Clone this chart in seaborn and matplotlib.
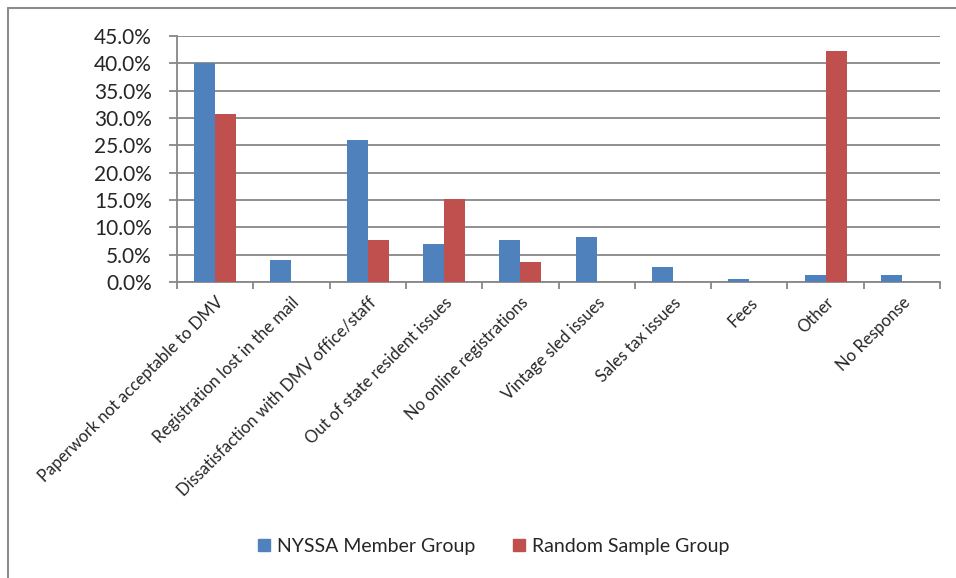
"""Registration problems reported by NYSSA members vs. a random sample."""

import matplotlib.pyplot as plt
import pandas as pd
import seaborn as sns
from matplotlib.lines import Line2D
from matplotlib.ticker import FuncFormatter, MultipleLocator

CATEGORIES = [
    "Paperwork not acceptable to DMV",
    "Registration lost in the mail",
    "Dissatisfaction with DMV office/staff",
    "Out of state resident issues",
    "No online registrations",
    "Vintage sled issues",
    "Sales tax issues",
    "Fees",
    "Other",
    "No Response",
]
NYSSA = [40.0, 4.1, 26.0, 6.9, 7.6, 8.3, 2.7, 0.6, 1.3, 1.3]
RANDOM = [30.7, 0.0, 7.6, 15.2, 3.7, 0.0, 0.0, 0.0, 42.3, 0.0]
GROUPS = ["NYSSA Member Group", "Random Sample Group"]
COLORS = ["#4F81BD", "#C0504D"]
GRID = "#878787"

sns.set_style("white")
plt.rcParams["font.family"] = ["Lato", "DejaVu Sans"]

df = pd.DataFrame({
    "category": CATEGORIES * 2,
    "value": NYSSA + RANDOM,
    "group": [GROUPS[0]] * len(CATEGORIES) + [GROUPS[1]] * len(CATEGORIES),
})

fig = plt.figure(figsize=(9.56, 5.78), dpi=100)
ax = fig.add_axes([177 / 956, 1 - 282 / 578, 763 / 956, 246 / 578])

sns.barplot(
    data=df, x="category", y="value", hue="group", order=CATEGORIES,
    hue_order=GROUPS, palette=COLORS, saturation=1, width=0.55, linewidth=0,
    legend=False, ax=ax, zorder=3,
)

ax.set_xlim(-0.5, len(CATEGORIES) - 0.5)
ax.set_ylim(0, 45)
ax.yaxis.set_major_locator(MultipleLocator(5))
ax.yaxis.set_major_formatter(FuncFormatter(lambda v, _: f"{v:.1f}%"))
ax.grid(axis="y", color=GRID, linewidth=1.3, zorder=0)
ax.set_xlabel("")
ax.set_ylabel("")

for side in ["top", "right"]:
    ax.spines[side].set_visible(False)
for side in ["left", "bottom"]:
    ax.spines[side].set_color(GRID)
    ax.spines[side].set_linewidth(1.3)

ax.tick_params(axis="y", left=True, length=6, width=1.3, color=GRID,
               labelsize=15, pad=12)
ax.tick_params(axis="x", which="major", length=0, labelsize=12, pad=9)
ax.set_xticks([i - 0.5 for i in range(len(CATEGORIES) + 1)], minor=True)
ax.tick_params(axis="x", which="minor", bottom=True, length=5, width=1.3,
               color=GRID)
for lab in ax.get_xticklabels():
    lab.set_rotation(45)
    lab.set_ha("right")
    lab.set_rotation_mode("anchor")

handles = [
    Line2D([], [], marker="s", linestyle="", markersize=9, color=c)
    for c in COLORS
]
fig.legend(
    handles, GROUPS, loc="center", bbox_to_anchor=(0.516, 0.055), ncol=2,
    frameon=False, fontsize=14, handlelength=0.7, handletextpad=0.3,
    columnspacing=1.9,
)

# chart-area border (cropped on the right and bottom in the original)
fig.add_artist(Line2D([8 / 956, 8 / 956], [0, 1 - 8 / 578],
                      color="#8c8c8c", linewidth=1.5))
fig.add_artist(Line2D([8 / 956, 1], [1 - 8 / 578, 1 - 8 / 578],
                      color="#8c8c8c", linewidth=1.5))

fig.savefig("out.png", dpi=100)
